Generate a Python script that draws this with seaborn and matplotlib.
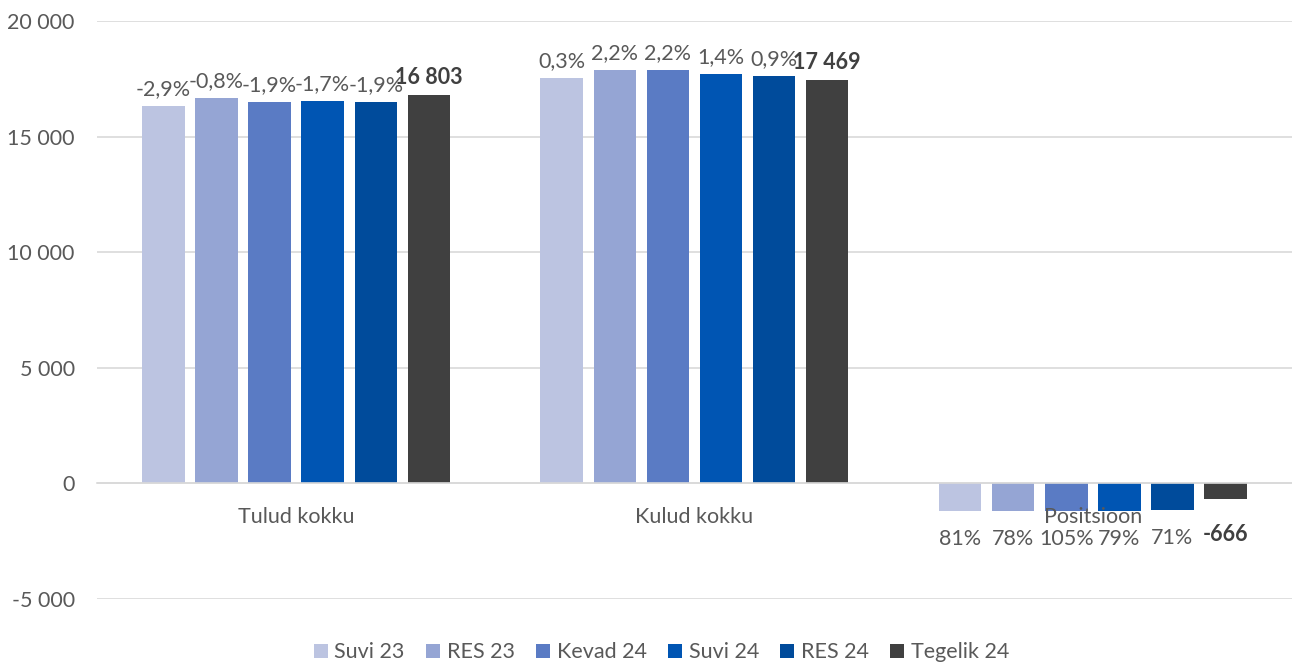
import pandas as pd
import matplotlib.pyplot as plt
import seaborn as sns

categories = ["Tulud kokku", "Kulud kokku", "Positsioon"]
series = ["Suvi 23", "RES 23", "Kevad 24", "Suvi 24", "RES 24", "Tegelik 24"]

suvi23 = [16320, 17520, -1210]
res23 = [16670, 17860, -1180]
kevad24 = [16480, 17860, -1200]
suvi24 = [16520, 17720, -1200]
res24 = [16480, 17630, -1140]
tegelik24 = [16803, 17469, -666]

# labels shown above/below the bars
lbl_suvi23 = ["-2,9%", "0,3%", "81%"]
lbl_res23 = ["-0,8%", "2,2%", "78%"]
lbl_kevad24 = ["-1,9%", "2,2%", "105%"]
lbl_suvi24 = ["-1,7%", "1,4%", "79%"]
lbl_res24 = ["-1,9%", "0,9%", "71%"]
lbl_tegelik24 = ["16 803", "17 469", "-666"]

colors = ["#BCC4E1", "#95A5D4", "#5A7BC4", "#0055B3", "#004B9B", "#404040"]

rows = []
for name, vals in zip(series, [suvi23, res23, kevad24, suvi24, res24, tegelik24]):
    for cat, v in zip(categories, vals):
        rows.append({"Kategooria": cat, "Prognoos": name, "Väärtus": v})
df = pd.DataFrame(rows)

sns.set_style("white")
plt.rcParams["font.family"] = ["Lato", "DejaVu Sans"]

fig = plt.figure(figsize=(12.92, 6.62), dpi=100)
ax = fig.add_axes([0.075, 0.0952, 0.925, 0.8731])

sns.barplot(data=df, x="Kategooria", y="Väärtus", hue="Prognoos",
            palette=colors, width=0.8, gap=0.2, ax=ax, saturation=1,
            edgecolor="none")

ax.set_ylim(-5000, 20000)
ax.set_yticks(range(-5000, 20001, 5000))
ax.set_yticklabels([f"{v:,.0f}".replace(",", " ") for v in range(-5000, 20001, 5000)])
ax.yaxis.grid(True, color="#D9D9D9", linewidth=1.2)
ax.set_axisbelow(True)
ax.xaxis.set_zorder(5)
ax.tick_params(axis="y", length=0, pad=16, labelsize=15.5, labelcolor="#595959")
ax.tick_params(axis="x", length=0, pad=17, labelsize=15.5, labelcolor="#595959")
ax.set_xlabel("")
ax.set_ylabel("")
for s in ["left", "right", "top"]:
    ax.spines[s].set_visible(False)
ax.spines["bottom"].set_position(("data", 0))
ax.spines["bottom"].set_color("#D9D9D9")
ax.spines["bottom"].set_linewidth(1.2)
ax.set_xlim(-0.5, 2.5)

all_labels = [lbl_suvi23, lbl_res23, lbl_kevad24, lbl_suvi24, lbl_res24, lbl_tegelik24]
for i, (cont, labs) in enumerate(zip(ax.containers, all_labels)):
    last = i == len(all_labels) - 1
    style = dict(fontsize=15.5, color="#404040" if last else "#595959",
                 fontweight="bold" if last else "normal")
    pos = [l if j < 2 else "" for j, l in enumerate(labs)]
    neg = ["" if j < 2 else l for j, l in enumerate(labs)]
    ax.bar_label(cont, labels=pos, padding=5, **style)
    ax.bar_label(cont, labels=neg, padding=18 if last else 13, **style)

handles, labels = ax.get_legend_handles_labels()
ax.legend(handles, labels, loc="lower center", bbox_to_anchor=(0.512, -0.03),
          bbox_transform=fig.transFigure, ncol=6, frameon=False,
          handlelength=0.65, handleheight=0.65, handletextpad=0.3,
          columnspacing=1.0, fontsize=15.5, labelcolor="#595959")

fig.savefig("out.png", dpi=100)
